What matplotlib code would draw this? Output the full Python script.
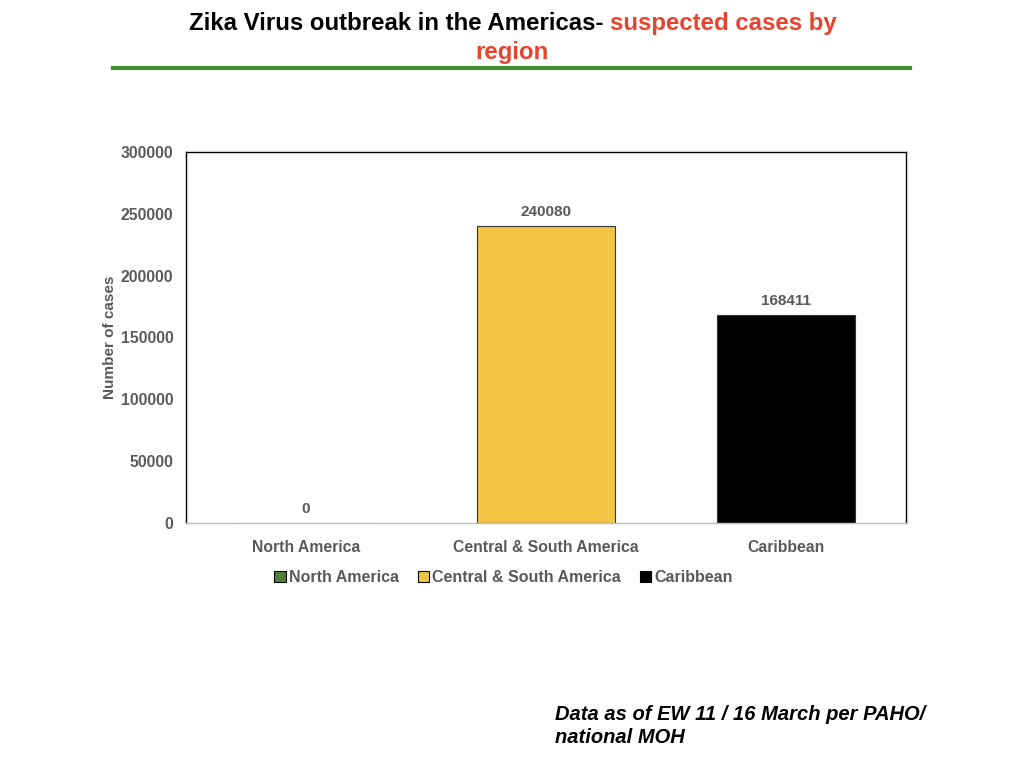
import matplotlib.pyplot as plt
from matplotlib.patches import Patch
from matplotlib.lines import Line2D

regions = ["North America", "Central & South America", "Caribbean"]
cases = [0, 240080, 168411]
bar_colors = ["#4F7F35", "#F3C444", "#000000"]
yticks = [0, 50000, 100000, 150000, 200000, 250000, 300000]

plt.rcParams["font.family"] = ["Liberation Sans", "DejaVu Sans"]
gray = "#595959"

fig = plt.figure(figsize=(10.24, 7.68), dpi=100)
ax = fig.add_axes([0.1816, 0.319, 0.7031, 0.4831])

bars = ax.bar(range(len(regions)), cases, width=0.575, color=bar_colors,
              edgecolor="#333333", linewidth=0.8)
for i, v in enumerate(cases):
    ax.annotate(str(v), (i, v), xytext=(0, 5), textcoords="offset points",
                ha="center", va="bottom", fontsize=11, fontweight="bold",
                color=gray)

ax.set_xlim(-0.5, 2.5)
ax.set_ylim(0, 300000)
ax.set_yticks(yticks)
ax.set_yticklabels([str(t) for t in yticks], fontsize=11.3, fontweight="bold",
                   color=gray)
ax.set_xticks(range(len(regions)))
ax.set_xticklabels(regions, fontsize=11.3, fontweight="bold", color=gray)
ax.tick_params(axis="both", length=0)
ax.tick_params(axis="y", pad=9)
ax.tick_params(axis="x", pad=12)
ax.set_ylabel("Number of cases", fontsize=11, fontweight="bold", color=gray,
              labelpad=3)

for side in ["top", "left", "right"]:
    ax.spines[side].set_color("black")
    ax.spines[side].set_linewidth(1.0)
ax.spines["bottom"].set_color("#BFBFBF")
ax.spines["bottom"].set_linewidth(1.0)

handles = [Patch(facecolor=c, edgecolor="black", linewidth=0.8) for c in bar_colors]
leg = fig.legend(handles, regions, loc="center", bbox_to_anchor=(0.492, 0.248),
                 ncol=3, frameon=False, handlelength=0.7, handleheight=0.7,
                 handletextpad=0.2, columnspacing=1.2,
                 prop={"size": 11.5, "weight": "bold"})
for t in leg.get_texts():
    t.set_color(gray)

# title, two colours on one line
fig.text(0.589, 0.969, "Zika Virus outbreak in the Americas-", ha="right",
         va="center", fontsize=17.3, fontweight="bold", color="black")
fig.text(0.596, 0.969, "suspected cases by", ha="left", va="center",
         fontsize=17.3, fontweight="bold", color="#E8432F")
fig.text(0.5, 0.931, "region", ha="center", va="center", fontsize=17.3,
         fontweight="bold", color="#E8432F")
fig.add_artist(Line2D([0.11, 0.889], [0.912, 0.912], color="#3F8F2C",
                      linewidth=3, transform=fig.transFigure))

fig.text(0.542, 0.055, "Data as of EW 11 / 16 March per PAHO/\nnational MOH",
         ha="left", va="center", fontsize=14.5, fontweight="bold",
         style="italic", color="black", linespacing=1.3)

fig.savefig("out.png", dpi=100)
